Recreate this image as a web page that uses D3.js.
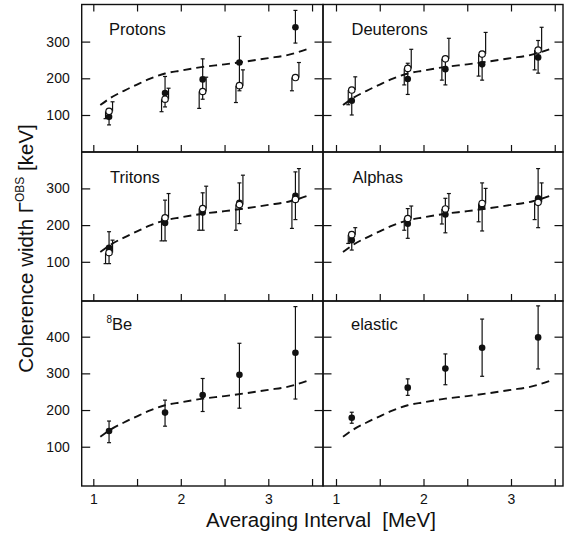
<!DOCTYPE html>
<html>
<head>
<meta charset="utf-8">
<script src="https://cdn.jsdelivr.net/npm/d3@7"></script>
<style>
  body { margin: 0; background: #fff; }
  text { font-family: "Liberation Sans", Arial, sans-serif; fill: #111; }
</style>
</head>
<body>
<svg id="plot"></svg>
<script>
// Averaging intervals (MeV) where the points sit, same in every panel
const intervals = [1.18, 1.82, 2.25, 2.67, 3.31];

// each entry: [value, low end of bar, high end of bar] in keV
const protonsFilled = [[95, 73, 109], [160, 122, 205], [197, 143, 253], [243, 166, 314], [339, 296, 385]];
const protonsOpen = [[110, 90, 136], [143, 109, 173], [164, 118, 203], [180, 134, 223], [202, 166, 243]];
const deuteronsFilled = [[139, 100, 175], [198, 156, 241], [225, 182, 259], [238, 195, 273], [257, 214, 303]];
const deuteronsOpen = [[168, 128, 204], [227, 182, 279], [253, 195, 309], [266, 206, 325], [277, 223, 339]];
const tritonsFilled = [[138, 95, 182], [206, 157, 268], [234, 186, 288], [261, 204, 315], [280, 215, 345]];
const tritonsOpen = [[125, 95, 159], [220, 157, 286], [245, 186, 306], [256, 186, 336], [270, 191, 354]];
const alphasFilled = [[159, 132, 182], [204, 164, 245], [229, 179, 273], [250, 184, 315], [273, 193, 354]];
const alphasOpen = [[174, 150, 193], [218, 186, 252], [244, 203, 286], [259, 209, 300], [262, 215, 315]];
const beFilled = [[143, 111, 170], [193, 156, 227], [241, 196, 286], [296, 205, 382], [356, 230, 482]];
const elasticFilled = [[179, 164, 194], [261, 240, 285], [313, 269, 353], [370, 292, 448], [398, 312, 484]];

// dashed theory curve
const curveX = [1.08, 1.2, 1.35, 1.5, 1.65, 1.82, 2.0, 2.25, 2.5, 2.75, 3.0, 3.25, 3.44];
const curveY = [127, 147, 166, 183, 199, 213, 221, 231, 238, 246, 255, 265, 279];

const xTicks = [1, 1.5, 2, 2.5, 3, 3.5];
const xTickLabels = [1, 2, 3];
const yTicksSmall = [100, 200, 300];
const yTicksBig = [100, 200, 300, 400];

// page geometry
const colEdges = [[81.7, 323], [323, 563]];
const colRange = [[93.3, 268.3], [336, 511]];
const rowEdges = [[4.5, 152], [152, 301], [301, 486]];
const rowDomain = [[0, 400], [0, 400], [0, 500]];
const rowRange = [[151.7, 4.9], [298.5, 151.7], [483.4, 300]];

const panels = [
  { label: "Protons", col: 0, row: 0, filled: protonsFilled, open: protonsOpen, lx: 109, ly: 35 },
  { label: "Deuterons", col: 1, row: 0, filled: deuteronsFilled, open: deuteronsOpen, lx: 351.5, ly: 35 },
  { label: "Tritons", col: 0, row: 1, filled: tritonsFilled, open: tritonsOpen, lx: 110, ly: 182.5 },
  { label: "Alphas", col: 1, row: 1, filled: alphasFilled, open: alphasOpen, lx: 352.5, ly: 183 },
  { label: "Be", sup: "8", col: 0, row: 2, filled: beFilled, open: [], lx: 106.5, ly: 329.5 },
  { label: "elastic", col: 1, row: 2, filled: elasticFilled, open: [], lx: 351, ly: 330 }
];

const ink = "#111";

const svg = d3.select("#plot")
  .attr("width", 564)
  .attr("height", 544);

const curvePts = curveX.map((d, i) => [d, curveY[i]]);

panels.forEach(p => {
  const x = d3.scaleLinear().domain([1, 3]).range(colRange[p.col]);
  const y = d3.scaleLinear().domain(rowDomain[p.row]).range(rowRange[p.row]);
  const [x0, x1] = colEdges[p.col];
  const [y0, y1] = rowEdges[p.row];
  const yTicks = p.row === 2 ? yTicksBig : yTicksSmall;
  const g = svg.append("g");

  // frame
  g.append("rect")
    .attr("x", x0).attr("y", y0)
    .attr("width", x1 - x0).attr("height", y1 - y0)
    .attr("fill", "none").attr("stroke", ink).attr("stroke-width", 1.4);

  // inward ticks
  const tickAxis = (axis, tx, ty) => {
    const a = g.append("g").attr("transform", `translate(${tx},${ty})`).call(axis);
    a.select(".domain").remove();
    a.selectAll("line").attr("stroke", ink).attr("stroke-width", 1.2);
    a.selectAll("text").remove();
  };
  tickAxis(d3.axisTop(x).tickValues(xTicks).tickSize(7), 0, y1);
  if (p.row === 0) tickAxis(d3.axisBottom(x).tickValues(xTicks).tickSize(7), 0, y0);
  tickAxis(d3.axisRight(y).tickValues(yTicks).tickSize(8.5), x0, 0);
  tickAxis(d3.axisLeft(y).tickValues(yTicks).tickSize(8.5), x1, 0);

  // tick labels
  if (p.col === 0) {
    const ay = g.append("g").attr("transform", `translate(${x0},0)`)
      .call(d3.axisLeft(y).tickValues(yTicks).tickSize(0).tickPadding(12));
    ay.select(".domain").remove();
    ay.selectAll("text").attr("font-size", 14).attr("font-family", null).attr("fill", ink);
  }
  if (p.row === 2) {
    const ax = g.append("g").attr("transform", `translate(0,${y1})`)
      .call(d3.axisBottom(x).tickValues(xTickLabels).tickFormat(d3.format("d")).tickSize(0).tickPadding(8));
    ax.select(".domain").remove();
    ax.selectAll("text").attr("font-size", 14).attr("font-family", null).attr("fill", ink);
  }

  // theory curve
  g.append("path")
    .datum(curvePts)
    .attr("d", d3.line().x(d => x(d[0])).y(d => y(d[1])).curve(d3.curveMonotoneX))
    .attr("fill", "none")
    .attr("stroke", ink)
    .attr("stroke-width", 1.9)
    .attr("stroke-dasharray", "8,5");

  const bar = (px, ya, yb) => {
    g.append("line").attr("x1", px).attr("x2", px).attr("y1", ya).attr("y2", yb)
      .attr("stroke", ink).attr("stroke-width", 1.2);
    g.append("line").attr("x1", px - 2).attr("x2", px + 2).attr("y1", yb).attr("y2", yb)
      .attr("stroke", ink).attr("stroke-width", 1.2);
  };

  // filled points: symmetric-ish bar through the dot
  p.filled.forEach((d, i) => {
    const px = x(intervals[i]);
    bar(px, y(d[0]), y(d[1]));
    bar(px, y(d[0]), y(d[2]));
  });
  // open points: lower half of the bar on the left, upper half on the right
  p.open.forEach((d, i) => {
    const px = x(intervals[i]);
    bar(px - 3.5, y(d[0]), y(d[1]));
    bar(px + 3.5, y(d[0]), y(d[2]));
  });

  g.selectAll(".dot")
    .data(p.filled)
    .enter().append("circle")
    .attr("cx", (d, i) => x(intervals[i]))
    .attr("cy", d => y(d[0]))
    .attr("r", 3.3)
    .attr("fill", ink);

  g.selectAll(".ring")
    .data(p.open)
    .enter().append("circle")
    .attr("cx", (d, i) => x(intervals[i]))
    .attr("cy", d => y(d[0]))
    .attr("r", 3.2)
    .attr("fill", "#fff")
    .attr("stroke", ink)
    .attr("stroke-width", 1.2);

  // panel name
  const t = g.append("text")
    .attr("x", p.lx).attr("y", p.ly)
    .attr("font-size", 16.5);
  if (p.sup) {
    t.append("tspan").attr("font-size", 10).attr("dy", -7).text(p.sup);
    t.append("tspan").attr("dy", 7).text(p.label);
  } else {
    t.text(p.label);
  }
});

// y-axis title
const yTitle = svg.append("text")
  .attr("transform", "translate(33,248.5) rotate(-90)")
  .attr("text-anchor", "middle")
  .attr("font-size", 20.5);
yTitle.append("tspan").text("Coherence width Γ");
yTitle.append("tspan").attr("font-size", 12).attr("dy", -9).text("OBS");
yTitle.append("tspan").attr("dy", 9).text(" [keV]");

// x-axis title
svg.append("text")
  .attr("x", 321)
  .attr("y", 527)
  .attr("text-anchor", "middle")
  .attr("font-size", 20.5)
  .attr("xml:space", "preserve")
  .text("Averaging Interval  [MeV]");
</script>
</body>
</html>
